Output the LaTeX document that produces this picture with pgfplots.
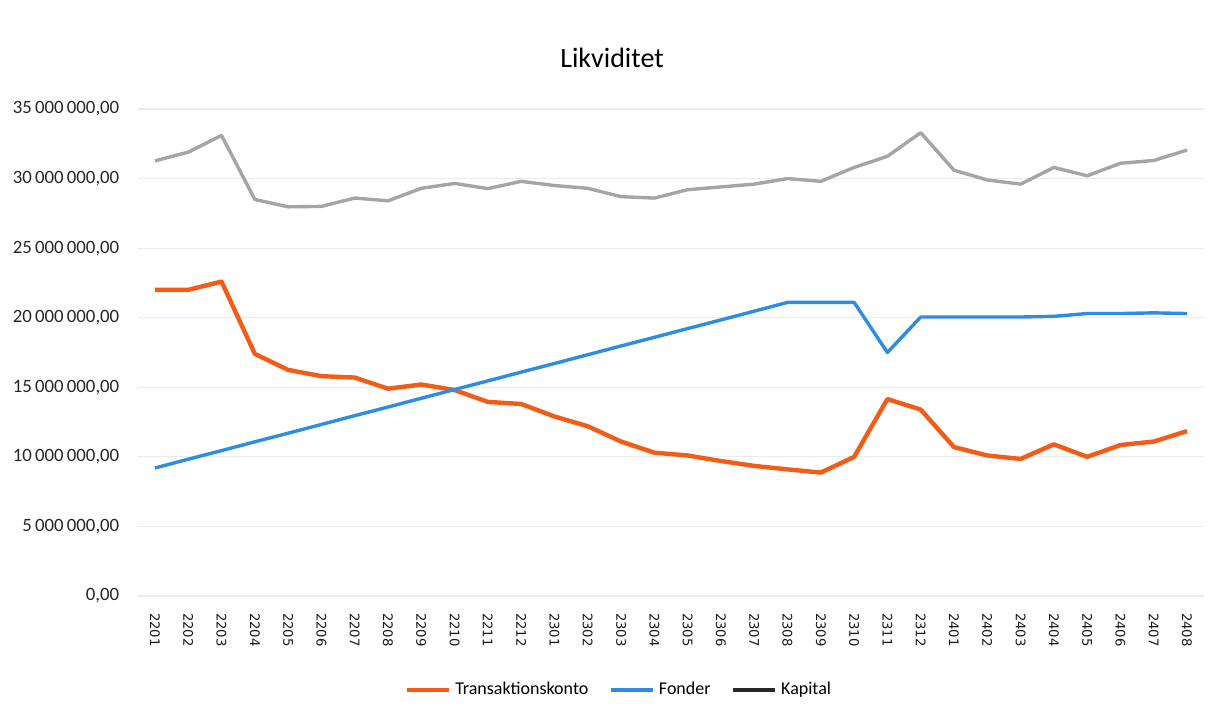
\documentclass[border=0pt]{standalone}
\usepackage{fontspec}
\setmainfont{Carlito}
\newfontfamily\dejavu{DejaVu Sans}
\usepackage{pgfplots}
\usepackage{pgfplotstable}
\pgfplotsset{compat=1.18}
\definecolor{trans}{RGB}{242,92,22}
\definecolor{fond}{RGB}{46,140,226}
\definecolor{kap}{RGB}{165,165,165}
\definecolor{kapleg}{RGB}{40,40,40}
\pgfplotstableread{
x trans fond kap
0  22000000 9200000  31270000
1  22000000 9830000  31900000
2  22600000 10450000 33100000
3  17400000 11080000 28500000
4  16250000 11700000 27970000
5  15800000 12330000 28000000
6  15700000 12960000 28600000
7  14900000 13580000 28400000
8  15200000 14210000 29300000
9  14800000 14840000 29650000
10 13950000 15460000 29280000
11 13800000 16090000 29800000
12 12900000 16710000 29500000
13 12200000 17340000 29300000
14 11100000 17970000 28700000
15 10300000 18590000 28600000
16 10100000 19220000 29200000
17 9700000  19840000 29400000
18 9350000  20470000 29600000
19 9100000  21100000 30000000
20 8870000  21100000 29800000
21 10000000 21100000 30800000
22 14150000 17500000 31600000
23 13400000 20050000 33300000
24 10700000 20050000 30600000
25 10100000 20050000 29900000
26 9850000  20050000 29600000
27 10900000 20100000 30800000
28 10000000 20300000 30200000
29 10850000 20300000 31100000
30 11100000 20350000 31300000
31 11850000 20300000 32050000
}\datatable
\begin{document}
\begin{tikzpicture}
\path[use as bounding box] (0pt,0pt) rectangle (608pt,362pt);
\node[font=\fontsize{14}{16}\selectfont] at (306pt,333pt) {Likviditet};
\begin{axis}[
  at={(69.15pt,64pt)}, anchor=south west,
  scale only axis, width=532.7pt, height=243.5pt,
  xmin=-0.5, xmax=31.5, ymin=0, ymax=35000000,
  xtick={0,...,31},
  xticklabels={2201,2202,2203,2204,2205,2206,2207,2208,2209,2210,2211,2212,2301,2302,2303,2304,2305,2306,2307,2308,2309,2310,2311,2312,2401,2402,2403,2404,2405,2406,2407,2408},
  ytick={0,5000000,10000000,15000000,20000000,25000000,30000000,35000000},
  scaled y ticks=false,
  yticklabel style={/pgf/number format/fixed, /pgf/number format/fixed zerofill, /pgf/number format/precision=2, /pgf/number format/use comma, /pgf/number format/1000 sep={\hspace{0.17em}}, /pgf/number format/assume math mode=true, font=\fontsize{9.4}{10}\selectfont, color=black!85},
  yticklabel shift=6pt,
  xticklabel style={font=\dejavu\fontsize{6.6}{7}\selectfont, rotate=-90, anchor=west, color=black!90},
  xticklabel shift=5pt,
  major tick length=0pt,
  axis line style={draw=none},
  ymajorgrids, grid style={black!8, line width=0.6pt},
  legend style={at={(0.452,-0.193)}, anchor=center, draw=none, fill=none,
    legend columns=3, font=\fontsize{9}{10}\selectfont,
    /tikz/every odd column/.append style={column sep=0pt},
    /tikz/every even column/.append style={column sep=8pt}},
  legend image code/.code={\draw[#1, line width=2.3pt] (0pt,0pt) -- (21pt,0pt);},
  legend cell align=left,
]
\addplot[trans, line width=2.2pt, line join=round] table[x=x, y=trans] {\datatable};
\addlegendentry{Transaktionskonto}
\addplot[fond, line width=1.7pt, line join=round] table[x=x, y=fond] {\datatable};
\addlegendentry{Fonder}
\addplot[kap, line width=1.7pt, line join=round, forget plot] table[x=x, y=kap] {\datatable};
\addlegendimage{kapleg}
\addlegendentry{Kapital}
\end{axis}
\end{tikzpicture}
\end{document}
